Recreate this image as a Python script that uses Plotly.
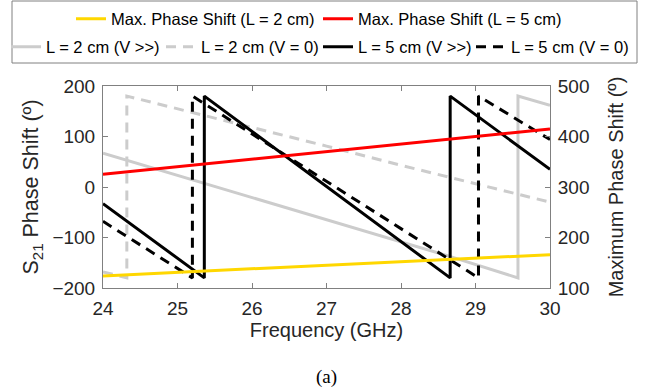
import plotly.graph_objects as go

# ---------------- data ----------------
freq_max = [24, 27, 30]
max_shift_2cm = [124, 145, 166]      # right axis
max_shift_5cm = [325, 370, 415]      # right axis

freq_2cm_on = [24, 25, 26, 27, 28, 28.6, 29.57, 29.57, 30]
phase_2cm_on = [67, 23, -22, -66, -110, -135, -180, 180, 162]

freq_2cm_off = [24, 24.32, 24.32, 25, 26, 27, 28, 29, 30]
phase_2cm_off = [-168, -180, 180, 155, 118, 81, 43, 6, -30]

freq_5cm_on = [24, 25.36, 25.36, 28.66, 28.66, 30]
phase_5cm_on = [-33, -180, 180, -180, 180, 35]

freq_5cm_off = [24, 25.2, 25.2, 29.04, 29.04, 30]
phase_5cm_off = [-68, -180, 180, -180, 180, 94]

x_ticks = [24, 25, 26, 27, 28, 29, 30]
y_left_ticks = [-200, -100, 0, 100, 200]
y_right_ticks = [100, 200, 300, 400, 500]

# ---------------- style ----------------
FONT = "Liberation Sans, Arial, Helvetica, sans-serif"
AXC = "#808080"
GRAY = "#CCCCCC"
YEL = "#FFD700"
RED = "#FF0000"
DASH = "10px,7px"
LW = 3

L, R, T, B = 103, 95, 86, 99
W, H = 645, 387
pw, ph = W - L - R, H - T - B


def px2paper_x(px):
    return (px - L) / pw


def px2paper_y(py):
    return (H - B - py) / ph


fig = go.Figure()

# (x, y, name, color, dash, yaxis, legend id, legend text x px, legend row y px)
series = [
    (freq_2cm_on, phase_2cm_on, "L = 2 cm (V >>)", GRAY, None, "y", "legend3", 46, 47),
    (freq_2cm_off, phase_2cm_off, "L = 2 cm (V = 0)", GRAY, DASH, "y", "legend4", 201, 47),
    (freq_5cm_on, phase_5cm_on, "L = 5 cm (V >>)", "black", None, "y", "legend5", 358, 47),
    (freq_5cm_off, phase_5cm_off, "L = 5 cm (V = 0)", "black", DASH, "y", "legend6", 511, 47),
    (freq_max, max_shift_2cm, "Max. Phase Shift (L = 2 cm)", YEL, None, "y2", "legend", 111, 19),
    (freq_max, max_shift_5cm, "Max. Phase Shift (L = 5 cm)", RED, None, "y2", "legend2", 358, 19),
]

legends = {}
for xs, ys, name, col, dash, yax, lg, tx, ty in series:
    line = dict(color=col, width=LW)
    if dash:
        line["dash"] = dash
    fig.add_trace(go.Scatter(x=xs, y=ys, mode="lines", name=name, yaxis=yax,
                             legend=lg, line=line))
    legends[lg] = dict(orientation="h", xref="paper", yref="paper",
                       x=px2paper_x(tx - 40), xanchor="left",
                       y=px2paper_y(ty), yanchor="middle",
                       font=dict(family=FONT, size=16.5, color="black"),
                       bgcolor="rgba(0,0,0,0)", borderwidth=0)

axis_common = dict(showgrid=False, zeroline=False, showline=True, linecolor=AXC,
                   linewidth=1, ticks="inside", ticklen=5, tickcolor=AXC,
                   tickfont=dict(family=FONT, size=19, color="#262626"),
                   ticklabelstandoff=3, automargin=False)

fig.update_layout(
    template="none",
    width=W, height=H,
    margin=dict(l=L, r=R, t=T, b=B, pad=0, autoexpand=False),
    paper_bgcolor="white", plot_bgcolor="white",
    font=dict(family=FONT, color="#262626"),
    showlegend=True,
    xaxis=dict(range=[24, 30], tickvals=x_ticks, mirror="ticks",
               title=dict(text="Frequency (GHz)", font=dict(family=FONT, size=20), standoff=5),
               **axis_common),
    yaxis=dict(range=[-200, 200], tickvals=y_left_ticks,
               title=dict(text="S<sub>21</sub> Phase Shift (º)", font=dict(family=FONT, size=21.5), standoff=7),
               **axis_common),
    yaxis2=dict(range=[100, 500], tickvals=y_right_ticks, overlaying="y", side="right",
                title=dict(text="Maximum Phase Shift (º)", font=dict(family=FONT, size=20), standoff=20),
                **axis_common),
    shapes=[dict(type="rect", xref="paper", yref="paper",
                 x0=px2paper_x(12), x1=px2paper_x(637),
                 y0=px2paper_y(63), y1=px2paper_y(1),
                 line=dict(color=AXC, width=1), fillcolor="rgba(0,0,0,0)", layer="above")],
    annotations=[dict(text="(a)", xref="paper", yref="paper", x=0.5, y=px2paper_y(377),
                      xanchor="center", yanchor="middle", showarrow=False,
                      font=dict(family="Liberation Serif, Times New Roman, serif", size=19, color="black"))],
    **legends,
)

fig.write_html("out.html")
